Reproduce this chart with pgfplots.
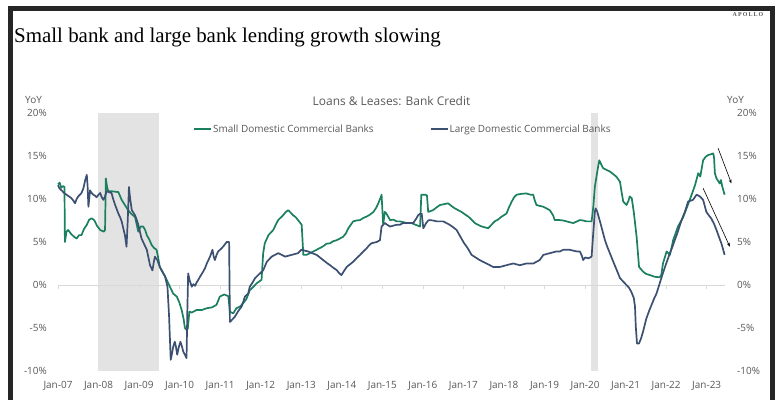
\documentclass[border=0pt]{standalone}
\usepackage{pgfplots}
\pgfplotsset{compat=1.18}
\usetikzlibrary{arrows.meta}
\usepackage{fontspec}
\setmainfont{Open Sans}
\newfontfamily\titlefont{Liberation Serif}
\newfontfamily\apollofont[LetterSpace=18]{Liberation Serif}
\definecolor{sgreen}{HTML}{1A8060}
\definecolor{lnavy}{HTML}{3C5072}
\definecolor{txtgray}{HTML}{595959}
\definecolor{shade}{HTML}{E3E3E3}
\definecolor{framec}{HTML}{262626}
\definecolor{zline}{HTML}{D9D9D9}

\pgfplotstableread{
x y
2007.00 11.7
2007.04 11.9
2007.08 11.3
2007.12 11.5
2007.16 11.4
2007.17 5.0
2007.21 6.2
2007.25 6.4
2007.33 5.9
2007.40 5.6
2007.46 5.4
2007.52 5.8
2007.58 5.8
2007.64 6.5
2007.71 7.0
2007.77 7.6
2007.83 7.75
2007.88 7.6
2007.91 7.4
2007.96 6.9
2008.04 6.4
2008.13 6.2
2008.16 6.4
2008.18 12.4
2008.21 11.4
2008.24 10.9
2008.32 10.9
2008.41 10.85
2008.49 10.8
2008.57 9.9
2008.65 9.3
2008.73 8.7
2008.80 8.3
2008.90 7.9
2008.98 6.2
2009.04 6.8
2009.10 6.8
2009.15 6.4
2009.19 5.8
2009.25 5.3
2009.31 4.65
2009.37 4.3
2009.43 4.1
2009.47 3.2
2009.51 2.1
2009.58 1.5
2009.64 1.0
2009.70 0.4
2009.76 -0.2
2009.84 -1.0
2009.93 -1.35
2009.99 -2.0
2010.05 -2.9
2010.10 -4.0
2010.13 -5.0
2010.17 -5.2
2010.20 -5.1
2010.24 -3.1
2010.30 -3.2
2010.42 -2.9
2010.55 -2.9
2010.67 -2.7
2010.80 -2.6
2010.91 -2.3
2010.99 -1.35
2011.10 -1.1
2011.20 -1.3
2011.24 -3.1
2011.32 -3.3
2011.40 -2.7
2011.49 -2.5
2011.57 -2.1
2011.65 -1.6
2011.73 -0.6
2011.80 -0.3
2011.90 0.2
2012.02 0.6
2012.06 3.7
2012.10 4.85
2012.19 5.8
2012.31 6.4
2012.37 7.0
2012.43 7.55
2012.55 8.1
2012.62 8.5
2012.68 8.7
2012.74 8.4
2012.80 8.1
2012.86 7.9
2012.92 7.55
2013.01 7.0
2013.05 3.5
2013.13 3.5
2013.21 3.7
2013.30 3.9
2013.38 4.1
2013.46 4.3
2013.54 4.5
2013.62 4.8
2013.71 4.85
2013.79 5.1
2013.87 5.2
2013.95 5.4
2014.03 5.6
2014.10 6.0
2014.16 6.6
2014.22 7.0
2014.28 7.4
2014.36 7.5
2014.45 7.55
2014.53 7.8
2014.61 7.95
2014.70 8.2
2014.78 8.5
2014.85 9.0
2014.90 9.5
2014.96 10.2
2014.98 10.5
2015.02 7.0
2015.06 8.5
2015.10 8.3
2015.19 7.55
2015.27 7.6
2015.35 7.4
2015.43 7.4
2015.52 7.3
2015.60 7.2
2015.72 7.2
2015.82 7.0
2015.93 6.8
2015.96 10.5
2016.06 10.5
2016.10 10.4
2016.13 8.5
2016.25 8.7
2016.33 9.0
2016.42 9.3
2016.52 9.4
2016.62 9.5
2016.70 9.2
2016.79 8.9
2016.87 8.7
2016.95 8.5
2017.04 8.2
2017.12 7.95
2017.20 7.6
2017.28 7.2
2017.36 7.0
2017.45 6.8
2017.53 6.7
2017.61 6.6
2017.69 7.0
2017.77 7.4
2017.85 7.6
2017.94 7.95
2018.06 8.3
2018.12 9.0
2018.19 9.7
2018.25 10.2
2018.31 10.5
2018.43 10.6
2018.55 10.65
2018.65 10.5
2018.72 10.5
2018.76 9.8
2018.80 9.3
2018.88 9.2
2018.97 9.1
2019.05 8.9
2019.13 8.7
2019.21 8.1
2019.25 7.55
2019.37 7.55
2019.46 7.5
2019.54 7.4
2019.62 7.3
2019.71 7.2
2019.80 7.4
2019.87 7.55
2019.95 7.5
2020.03 7.4
2020.10 7.4
2020.16 7.4
2020.20 9.0
2020.24 11.4
2020.28 12.6
2020.32 13.75
2020.35 14.5
2020.40 14.0
2020.44 13.6
2020.52 13.4
2020.61 13.2
2020.69 12.9
2020.77 12.6
2020.86 12.0
2020.90 10.8
2020.94 9.7
2021.02 9.3
2021.07 9.8
2021.10 10.3
2021.15 10.1
2021.20 8.5
2021.27 5.6
2021.33 2.1
2021.43 1.55
2021.50 1.3
2021.60 1.15
2021.72 0.95
2021.84 0.9
2021.88 1.2
2021.92 2.5
2022.01 3.9
2022.05 3.7
2022.09 3.5
2022.13 4.3
2022.17 5.2
2022.29 6.8
2022.42 7.9
2022.50 8.9
2022.58 9.9
2022.65 10.8
2022.71 11.6
2022.79 13.0
2022.84 12.6
2022.91 14.5
2022.97 14.9
2023.03 15.1
2023.10 15.2
2023.16 15.3
2023.18 14.8
2023.20 13.0
2023.24 12.4
2023.32 11.8
2023.35 12.2
2023.38 11.5
2023.44 10.5
}\smalltab

\pgfplotstableread{
x y
2007.00 11.6
2007.04 11.2
2007.09 11.0
2007.15 10.7
2007.21 10.5
2007.27 10.3
2007.33 10.1
2007.38 9.8
2007.42 9.5
2007.46 10.0
2007.50 10.3
2007.54 10.5
2007.58 10.7
2007.63 11.3
2007.67 12.2
2007.71 12.8
2007.73 11.5
2007.75 9.1
2007.77 10.0
2007.79 11.0
2007.83 10.7
2007.87 10.5
2007.91 10.4
2007.95 10.2
2008.00 10.5
2008.04 10.7
2008.08 10.2
2008.12 9.9
2008.16 10.3
2008.20 10.9
2008.26 10.8
2008.32 10.7
2008.36 10.0
2008.41 9.3
2008.45 8.8
2008.49 8.3
2008.53 7.9
2008.57 7.4
2008.61 6.6
2008.65 5.8
2008.69 4.45
2008.72 7.5
2008.75 11.4
2008.78 10.0
2008.82 8.7
2008.86 8.4
2008.90 8.1
2008.94 7.6
2008.98 7.0
2009.02 6.2
2009.06 5.4
2009.12 4.8
2009.19 4.1
2009.23 3.2
2009.27 2.3
2009.33 1.7
2009.36 2.6
2009.39 3.3
2009.45 2.9
2009.51 2.1
2009.58 1.5
2009.64 1.0
2009.70 -0.2
2009.74 -3.7
2009.78 -8.7
2009.81 -8.0
2009.84 -7.2
2009.88 -6.6
2009.91 -7.2
2009.94 -8.1
2009.98 -7.2
2010.02 -6.6
2010.06 -7.2
2010.09 -7.75
2010.13 -8.1
2010.17 -8.5
2010.19 -3.0
2010.21 1.35
2010.25 0.5
2010.30 -0.2
2010.34 0.1
2010.38 -0.1
2010.42 0.3
2010.46 0.6
2010.52 1.1
2010.58 1.55
2010.63 2.0
2010.67 2.5
2010.71 2.9
2010.75 3.3
2010.81 4.1
2010.84 3.3
2010.87 2.9
2010.91 3.5
2010.95 3.9
2011.02 4.2
2011.08 4.5
2011.16 5.0
2011.22 5.0
2011.24 -4.3
2011.30 -4.0
2011.36 -3.7
2011.45 -3.0
2011.53 -2.5
2011.61 -1.35
2011.69 -1.0
2011.73 -0.2
2011.80 0.3
2011.86 0.8
2011.98 1.35
2012.06 1.7
2012.15 2.7
2012.21 3.0
2012.27 3.3
2012.35 3.5
2012.43 3.7
2012.52 3.5
2012.60 3.3
2012.68 3.4
2012.76 3.5
2012.84 3.6
2012.92 3.7
2013.00 4.1
2013.08 4.0
2013.17 3.9
2013.27 3.7
2013.38 3.5
2013.46 3.2
2013.54 2.9
2013.62 2.6
2013.71 2.3
2013.79 2.0
2013.87 1.75
2013.93 1.4
2013.99 1.15
2014.05 1.6
2014.12 2.1
2014.20 2.4
2014.28 2.7
2014.36 3.1
2014.45 3.5
2014.53 3.9
2014.61 4.25
2014.67 4.6
2014.73 4.85
2014.86 5.0
2014.94 5.2
2014.98 6.8
2015.06 7.2
2015.12 7.0
2015.19 6.8
2015.27 6.9
2015.35 7.0
2015.43 7.0
2015.51 7.2
2015.60 7.2
2015.68 7.2
2015.76 7.2
2015.84 7.75
2015.88 8.1
2015.93 8.3
2015.97 8.3
2016.01 6.6
2016.08 7.2
2016.13 7.5
2016.17 7.55
2016.25 7.5
2016.34 7.4
2016.42 7.4
2016.50 7.4
2016.58 7.2
2016.66 7.0
2016.75 6.7
2016.83 6.4
2016.89 5.9
2016.95 5.4
2017.01 4.9
2017.08 4.45
2017.14 4.0
2017.20 3.5
2017.30 3.2
2017.40 2.9
2017.48 2.7
2017.57 2.5
2017.65 2.3
2017.73 2.1
2017.82 2.1
2017.90 2.1
2017.98 2.2
2018.06 2.3
2018.14 2.4
2018.23 2.5
2018.31 2.4
2018.39 2.3
2018.47 2.4
2018.55 2.5
2018.63 2.5
2018.72 2.5
2018.80 2.7
2018.88 2.9
2018.97 3.5
2019.05 3.6
2019.13 3.7
2019.21 3.8
2019.29 3.9
2019.38 3.9
2019.46 4.1
2019.54 4.1
2019.62 4.1
2019.70 4.0
2019.80 3.9
2019.87 3.9
2019.92 3.4
2019.95 2.9
2020.00 3.2
2020.08 3.1
2020.16 3.3
2020.20 6.0
2020.24 8.5
2020.26 8.9
2020.30 8.5
2020.36 7.5
2020.40 6.8
2020.49 5.2
2020.55 4.4
2020.61 3.7
2020.67 3.0
2020.73 2.3
2020.80 1.5
2020.86 0.8
2020.94 0.4
2021.02 0.0
2021.08 -0.3
2021.14 -0.8
2021.20 -1.5
2021.23 -2.5
2021.25 -4.85
2021.28 -6.8
2021.33 -6.8
2021.38 -6.2
2021.43 -5.4
2021.51 -3.9
2021.58 -3.0
2021.64 -2.3
2021.70 -1.6
2021.76 -1.0
2021.84 0.2
2021.90 1.1
2021.97 2.1
2022.03 2.9
2022.09 3.7
2022.15 4.4
2022.21 5.2
2022.28 6.1
2022.34 7.0
2022.40 7.8
2022.46 8.5
2022.54 9.7
2022.60 9.8
2022.66 9.9
2022.75 10.5
2022.83 10.3
2022.91 9.9
2022.99 8.5
2023.05 8.1
2023.11 7.75
2023.18 7.1
2023.24 6.4
2023.30 5.6
2023.36 4.85
2023.40 4.2
2023.44 3.5
}\largetab

\begin{document}
\begin{tikzpicture}
\useasboundingbox (0bp,0bp) rectangle (781bp,400bp);
\fill[white] (0bp,0bp) rectangle (781bp,400bp);
\draw[framec, line width=5bp] (10.5bp,0bp) -- (10.5bp,391.5bp) -- (772bp,391.5bp) -- (772bp,0bp);
\node[anchor=base west, inner sep=0pt, font=\titlefont\fontsize{21}{25}\selectfont, text=black] at (14bp,357bp) {Small bank and large bank lending growth slowing};
\node[anchor=center, inner sep=0pt, font=\apollofont\bfseries\fontsize{6}{7}\selectfont, text=txtgray] at (748bp,385bp) {APOLLO};
\node[anchor=west, inner sep=0pt, font=\fontsize{10}{12}\selectfont, text=txtgray] at (25bp,300bp) {YoY};
\node[anchor=west, inner sep=0pt, font=\fontsize{10}{12}\selectfont, text=txtgray] at (727bp,300bp) {YoY};
\node[anchor=center, inner sep=0pt, font=\fontsize{12}{14}\selectfont, text=txtgray] at (391.5bp,299bp) {Loans \& Leases: Bank Credit};

\begin{axis}[
  at={(58bp,29bp)}, anchor=south west, scale only axis,
  width=667bp, height=258bp,
  xmin=2007, xmax=2023.45, ymin=-10, ymax=20,
  clip=false,
  axis line style={draw=none},
  major tick length=0pt,
  xtick={2007,...,2023},
  xticklabels={Jan-07,Jan-08,Jan-09,Jan-10,Jan-11,Jan-12,Jan-13,Jan-14,Jan-15,Jan-16,Jan-17,Jan-18,Jan-19,Jan-20,Jan-21,Jan-22,Jan-23},
  xticklabel style={anchor=north, inner sep=0pt, yshift=-10bp, text=txtgray, font=\fontsize{10}{12}\selectfont},
  ytick={-10,-5,0,5,10,15,20},
  yticklabels={-10\%,-5\%,0\%,5\%,10\%,15\%,20\%},
  yticklabel style={anchor=east, inner sep=0pt, xshift=-11bp, text=txtgray, font=\fontsize{10}{12}\selectfont},
  legend columns=2,
  legend style={draw=none, fill=none, at={(0.2024,0.938)}, anchor=west, inner sep=0pt,
    nodes={inner sep=1bp, text=txtgray, font=\fontsize{10}{12}\selectfont},
    /tikz/every even column/.append style={column sep=55bp}},
  legend image code/.code={\draw[#1, line width=2bp] (0bp,0bp) -- (17bp,0bp);},
]
\addplot[fill=shade, draw=none, forget plot] coordinates {(2007.99,-10) (2007.99,20) (2009.49,20) (2009.49,-10)} -- cycle;
\addplot[fill=shade, draw=none, forget plot] coordinates {(2020.14,-10) (2020.14,20) (2020.31,20) (2020.31,-10)} -- cycle;
\addplot[zline, line width=0.8bp, forget plot] coordinates {(2007,0) (2023.45,0)};
\addplot[zline, line width=0.8bp, forget plot, ycomb, mark=none] coordinates {(2007,-0.45) (2008,-0.45) (2009,-0.45) (2010,-0.45) (2011,-0.45) (2012,-0.45) (2013,-0.45) (2014,-0.45) (2015,-0.45) (2016,-0.45) (2017,-0.45) (2018,-0.45) (2019,-0.45) (2020,-0.45) (2021,-0.45) (2022,-0.45) (2023,-0.45)};
\addplot[sgreen, line width=1.7bp, line join=round] table[x=x,y=y] {\smalltab};
\addlegendentry{Small Domestic Commercial Banks}
\addplot[lnavy, line width=1.7bp, line join=round] table[x=x,y=y] {\largetab};
\addlegendentry{Large Domestic Commercial Banks}
\draw[-{Stealth[length=4bp,width=3bp]}, line width=0.6bp, black] (axis cs:2023.28,15.9) -- (axis cs:2023.61,11.8);
\draw[-{Stealth[length=4bp,width=3bp]}, line width=0.6bp, black] (axis cs:2022.91,11.25) -- (axis cs:2023.57,4.45);
\end{axis}

\begin{axis}[
  at={(58bp,29bp)}, anchor=south west, scale only axis,
  width=667bp, height=258bp,
  xmin=2007, xmax=2023.45, ymin=-10, ymax=20,
  axis x line=none,
  axis y line*=right,
  axis line style={draw=none},
  major tick length=0pt,
  ytick={-10,-5,0,5,10,15,20},
  yticklabels={-10\%,-5\%,0\%,5\%,10\%,15\%,20\%},
  yticklabel style={anchor=west, inner sep=0pt, xshift=12bp, text=txtgray, font=\fontsize{10}{12}\selectfont},
]
\addplot[draw=none, forget plot] coordinates {(2007,0) (2023,0)};
\end{axis}
\end{tikzpicture}
\end{document}
